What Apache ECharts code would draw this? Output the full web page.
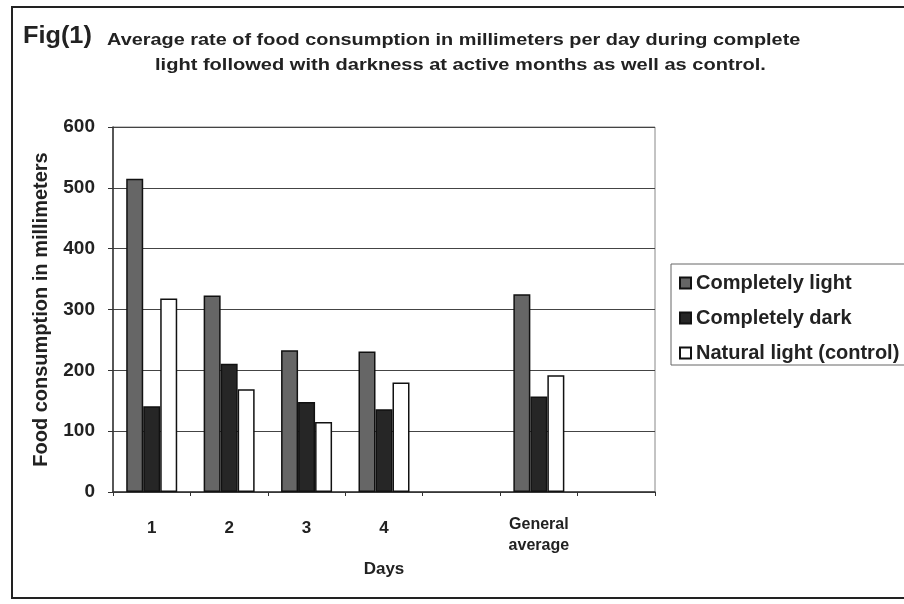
<!DOCTYPE html>
<html>
<head>
<meta charset="utf-8">
<script src="https://cdn.jsdelivr.net/npm/echarts@6/dist/echarts.min.js"></script>
<style>html,body{margin:0;padding:0;background:#fff}#c{width:904px;height:604px}</style>
</head>
<body>
<div id="c"></div>
<script>
const categories = ['1', '2', '3', '4', '', 'General\naverage', ''];
const completelyLight = [515, 323, 233, 231, null, 325];
const completelyDark = [141, 211, 148, 136, null, 157];
const naturalLight = [318, 169, 115, 180, null, 192];
const yTicks = [0, 100, 200, 300, 400, 500, 600];

const FONT = '"Liberation Sans", Arial, sans-serif';
const chart = echarts.init(document.getElementById('c'), null, {renderer: 'canvas'});

const barBase = {type: 'bar', barWidth: 17, barGap: '0%', itemStyle: {borderColor: '#111', borderWidth: 1.5}};

chart.setOption({
  backgroundColor: '#fff',
  animation: false,
  textStyle: {fontFamily: FONT},
  graphic: [
    {type: 'rect', shape: {x: 12, y: 7, width: 900, height: 591}, style: {fill: 'none', stroke: '#222', lineWidth: 2}, z: 100},
    {type: 'text', x: 23, y: 37, scaleX: 1.1, style: {text: 'Fig(1)', x: 0, y: 0, verticalAlign: 'middle', font: 'bold 23px ' + FONT, fill: '#222'}},
    {type: 'text', x: 107, y: 40, scaleX: 1.17, style: {text: 'Average rate of food consumption in millimeters per day during complete', x: 0, y: 0, verticalAlign: 'middle', font: 'bold 17px ' + FONT, fill: '#222'}},
    {type: 'text', x: 155, y: 65, scaleX: 1.18, style: {text: 'light followed with darkness at active months as well as control.', x: 0, y: 0, verticalAlign: 'middle', font: 'bold 17px ' + FONT, fill: '#222'}}
  ],
  legend: {
    orient: 'vertical',
    left: 671, top: 264,
    itemWidth: 11, itemHeight: 11, itemGap: 15,
    icon: 'rect',
    padding: [9, 10, 2, 8],
    borderColor: '#666', borderWidth: 1,
    textStyle: {fontFamily: FONT, fontWeight: 'bold', fontSize: 20, color: '#222'},
    data: ['Completely light', 'Completely dark', 'Natural light (control)']
  },
  grid: {left: 113, right: 249, top: 127, bottom: 112, show: true, borderColor: '#888', borderWidth: 1},
  xAxis: {
    type: 'category',
    data: categories.map(c => c.indexOf('General') === 0 ? {value: c, textStyle: {fontSize: 16, lineHeight: 21}} : c),
    axisLine: {lineStyle: {color: '#333', width: 1.5}},
    axisTick: {show: true, length: 4, lineStyle: {color: '#333'}},
    axisLabel: {margin: 22, lineHeight: 28, fontFamily: FONT, fontWeight: 'bold', fontSize: 17, color: '#222', interval: 0},
    name: 'Days', nameLocation: 'middle', nameGap: 62,
    nameTextStyle: {fontFamily: FONT, fontWeight: 'bold', fontSize: 17, color: '#222'}
  },
  yAxis: {
    type: 'value', min: 0, max: 600, interval: 100,
    axisLine: {show: true, lineStyle: {color: '#333', width: 1.5}},
    axisTick: {show: true, length: 5, lineStyle: {color: '#333'}},
    axisLabel: {margin: 18, fontFamily: FONT, fontWeight: 'bold', fontSize: 19, color: '#222',
      formatter: v => yTicks.includes(v) ? String(v) : ''},
    splitLine: {lineStyle: {color: '#444', width: 1}},
    name: 'Food consumption in millimeters', nameLocation: 'middle', nameGap: 62,
    nameTextStyle: {fontFamily: FONT, fontWeight: 'bold', fontSize: 20, color: '#222'}
  },
  series: [
    Object.assign({}, barBase, {name: 'Completely light', data: completelyLight, itemStyle: Object.assign({}, barBase.itemStyle, {color: '#666666'})}),
    Object.assign({}, barBase, {name: 'Completely dark', data: completelyDark, itemStyle: Object.assign({}, barBase.itemStyle, {color: '#262626'})}),
    Object.assign({}, barBase, {name: 'Natural light (control)', data: naturalLight, itemStyle: Object.assign({}, barBase.itemStyle, {color: '#ffffff'})})
  ]
});
</script>
</body>
</html>
